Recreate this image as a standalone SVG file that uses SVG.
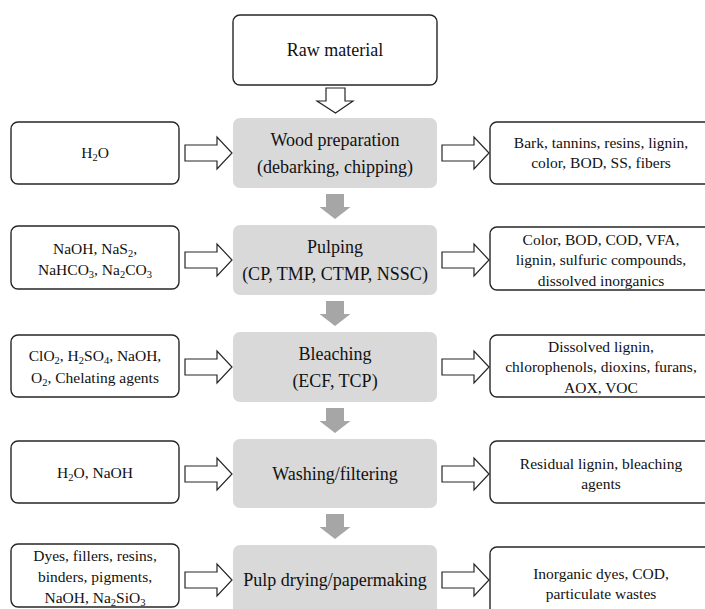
<svg xmlns="http://www.w3.org/2000/svg" width="705" height="609" viewBox="0 0 705 609">
<style>
.box{fill:#fff;stroke:#262626;stroke-width:1.4}
.proc{fill:#d9d9d9;stroke:none}
.hollow{fill:#fff;stroke:#262626;stroke-width:1.2}
.garr{fill:#a6a6a6;stroke:none}
text{font-family:"Liberation Serif","Times New Roman",serif;fill:#111;text-anchor:middle}
.big{font-size:18px}
.sm{font-size:15.5px}
.sub{font-size:10.5px}
</style>
<defs>
<polygon id="harr" class="hollow" points="0,-8 32,-8 32,-16 47,0 32,16 32,8 0,8"/>
<polygon id="garr" class="garr" points="-9,6 9,6 9,19 15.5,19 0,31 -15.5,19 -9,19"/>
</defs>
<rect width="705" height="609" fill="#fff"/>

<g id="connectors">
<polygon class="hollow" points="326,88 345,88 345,101 353,101 335.5,113 317,101 326,101"/>
<use href="#harr" x="185" y="153"/>
<use href="#harr" x="442" y="153"/>
<use href="#harr" x="185" y="260"/>
<use href="#harr" x="442" y="260"/>
<use href="#harr" x="185" y="367"/>
<use href="#harr" x="442" y="367"/>
<use href="#harr" x="185" y="474"/>
<use href="#harr" x="442" y="474"/>
<use href="#harr" x="185" y="580"/>
<use href="#harr" x="442" y="580"/>
<use href="#garr" x="335" y="188"/>
<use href="#garr" x="335" y="295"/>
<use href="#garr" x="335" y="402"/>
<use href="#garr" x="335" y="508"/>
</g>

<g id="raw">
<rect class="box" x="233" y="15" width="204" height="70" rx="7"/>
<text class="big" x="335" y="56">Raw material</text>
</g>

<g id="wood">
<rect class="proc" x="233" y="118" width="204" height="70" rx="7"/>
<text class="big" x="335" y="146">Wood preparation</text>
<text class="big" x="335" y="173">(debarking, chipping)</text>
</g>
<g id="wood-in">
<rect class="box" x="11" y="122" width="168" height="62" rx="7"/>
<text class="sm" x="95" y="158">H<tspan class="sub" dy="3">2</tspan><tspan dy="-3">O</tspan></text>
</g>
<g id="wood-out">
<rect class="box" x="490" y="122" width="224" height="62" rx="7"/>
<text class="sm" x="601" y="148">Bark, tannins, resins, lignin,</text>
<text class="sm" x="601" y="168">color, BOD, SS, fibers</text>
</g>

<g id="pulping">
<rect class="proc" x="233" y="225" width="204" height="70" rx="7"/>
<text class="big" x="335" y="253">Pulping</text>
<text class="big" x="335" y="280">(CP, TMP, CTMP, NSSC)</text>
</g>
<g id="pulping-in">
<rect class="box" x="11" y="226" width="168" height="63" rx="7"/>
<text class="sm" x="95" y="254">NaOH, NaS<tspan class="sub" dy="3">2</tspan><tspan dy="-3">,</tspan></text>
<text class="sm" x="95" y="275">NaHCO<tspan class="sub" dy="3">3</tspan><tspan dy="-3">, Na</tspan><tspan class="sub" dy="3">2</tspan><tspan dy="-3">CO</tspan><tspan class="sub" dy="3">3</tspan></text>
</g>
<g id="pulping-out">
<rect class="box" x="490" y="227" width="224" height="63" rx="7"/>
<text class="sm" x="601" y="245">Color, BOD, COD, VFA,</text>
<text class="sm" x="601" y="265">lignin, sulfuric compounds,</text>
<text class="sm" x="601" y="286">dissolved inorganics</text>
</g>

<g id="bleaching">
<rect class="proc" x="233" y="332" width="204" height="70" rx="7"/>
<text class="big" x="335" y="360">Bleaching</text>
<text class="big" x="335" y="387">(ECF, TCP)</text>
</g>
<g id="bleaching-in">
<rect class="box" x="11" y="335" width="168" height="62" rx="7"/>
<text class="sm" x="95" y="361">ClO<tspan class="sub" dy="3">2</tspan><tspan dy="-3">, H</tspan><tspan class="sub" dy="3">2</tspan><tspan dy="-3">SO</tspan><tspan class="sub" dy="3">4</tspan><tspan dy="-3">, NaOH,</tspan></text>
<text class="sm" x="95" y="383">O<tspan class="sub" dy="3">2</tspan><tspan dy="-3">, Chelating agents</tspan></text>
</g>
<g id="bleaching-out">
<rect class="box" x="490" y="335" width="224" height="62" rx="7"/>
<text class="sm" x="601" y="352">Dissolved lignin,</text>
<text class="sm" x="601" y="372">chlorophenols, dioxins, furans,</text>
<text class="sm" x="601" y="393">AOX, VOC</text>
</g>

<g id="washing">
<rect class="proc" x="233" y="439" width="204" height="69" rx="7"/>
<text class="big" x="335" y="480">Washing/filtering</text>
</g>
<g id="washing-in">
<rect class="box" x="11" y="441" width="168" height="62" rx="7"/>
<text class="sm" x="95" y="478">H<tspan class="sub" dy="3">2</tspan><tspan dy="-3">O, NaOH</tspan></text>
</g>
<g id="washing-out">
<rect class="box" x="490" y="441" width="224" height="62" rx="7"/>
<text class="sm" x="601" y="469">Residual lignin, bleaching</text>
<text class="sm" x="601" y="489">agents</text>
</g>

<g id="papermaking">
<rect class="proc" x="233" y="545" width="204" height="75" rx="7"/>
<text class="big" x="335" y="586">Pulp drying/papermaking</text>
</g>
<g id="papermaking-in">
<rect class="box" x="11" y="544" width="168" height="63" rx="7"/>
<text class="sm" x="95" y="561">Dyes, fillers, resins,</text>
<text class="sm" x="95" y="582">binders, pigments,</text>
<text class="sm" x="95" y="603">NaOH, Na<tspan class="sub" dy="3">2</tspan><tspan dy="-3">SiO</tspan><tspan class="sub" dy="3">3</tspan></text>
</g>
<g id="papermaking-out">
<rect class="box" x="490" y="547" width="224" height="70" rx="7"/>
<text class="sm" x="601" y="579">Inorganic dyes, COD,</text>
<text class="sm" x="601" y="599">particulate wastes</text>
</g>
</svg>
